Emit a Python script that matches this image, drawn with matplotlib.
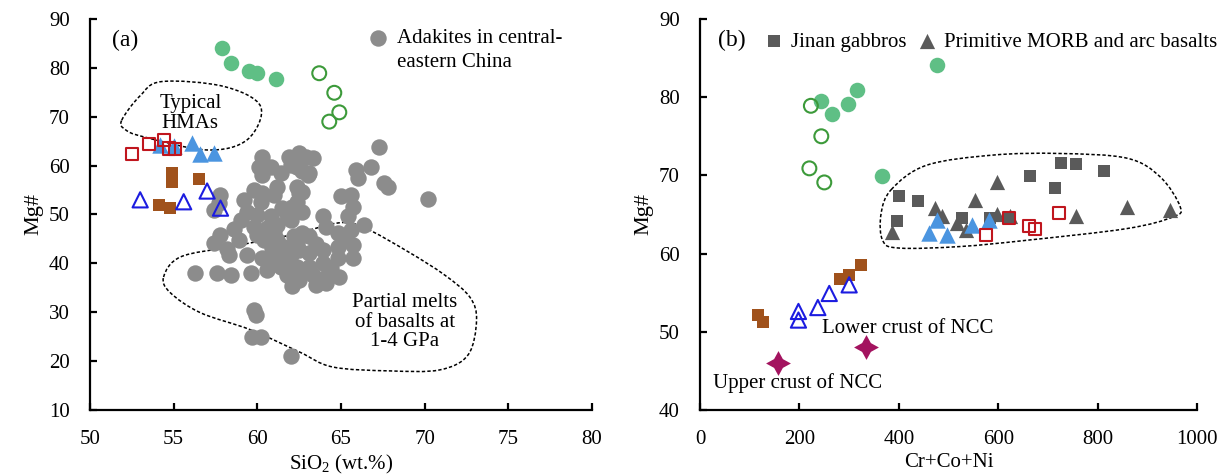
import numpy as np
import matplotlib.pyplot as plt
from matplotlib.path import Path
from matplotlib.patches import PathPatch

plt.rcParams['font.family'] = ['Liberation Serif', 'DejaVu Serif']
plt.rcParams['mathtext.fontset'] = 'custom'
plt.rcParams['mathtext.rm'] = 'Liberation Serif'

# ---- panel (a): SiO2 vs Mg# ----
adakite_sio2 = [60.3, 60.1, 60.3, 61.9, 62.0, 61.4, 62.5, 62.7, 57.8, 57.4,
                59.2, 59.8, 60.3, 61.0, 59.4, 59.0, 60.0, 60.8, 61.5, 62.1,
                62.5, 62.7, 62.0, 61.2, 60.6, 60.0, 58.9, 57.8, 57.4, 60.4,
                61.2, 61.6, 62.2, 62.7, 58.3, 59.4, 60.3, 61.0, 62.0, 62.5,
                56.3, 57.6, 58.4, 59.6, 60.6, 61.4, 61.8, 62.5, 62.1, 67.3,
                66.8, 66.0, 67.6, 67.8, 63.3, 62.4, 63.0, 62.7, 62.4, 63.9,
                65.0, 65.7, 65.4, 66.4, 65.6, 64.8, 64.1, 63.1, 62.4, 65.7,
                64.8, 63.9, 63.1, 65.7, 64.8, 63.9, 63.1, 62.4, 64.9, 64.1,
                63.3, 62.5, 70.2, 65.6, 64.1, 63.5, 62.0, 59.8, 59.9, 59.7,
                60.2, 62.0, 60.8, 62.9, 65.9, 61.2, 62.4, 63.1, 57.7, 58.6,
                59.8, 61.0, 61.8, 60.2, 63.5, 64.4, 65.2, 58.2, 61.6, 60.9]
adakite_mg = [61.8, 59.8, 58.1, 61.8, 60.1, 58.4, 62.5, 58.8, 54.0, 50.9,
              53.0, 55.0, 54.4, 54.0, 50.6, 48.9, 49.9, 49.6, 51.3, 51.6,
              54.4, 50.6, 48.9, 47.9, 47.2, 45.8, 44.8, 45.8, 44.1, 44.8,
              44.8, 43.4, 45.5, 46.2, 41.7, 41.7, 41.1, 41.1, 41.7, 42.8,
              38.0, 38.0, 37.6, 38.0, 38.7, 39.3, 37.6, 38.3, 35.3, 63.9,
              59.8, 57.4, 56.4, 55.7, 61.5, 59.8, 58.1, 54.7, 52.6, 49.6,
              53.7, 51.6, 49.6, 47.9, 46.9, 46.2, 47.5, 45.5, 44.1, 43.8,
              43.4, 42.8, 42.1, 41.1, 41.1, 40.0, 39.3, 39.3, 37.3, 37.3,
              37.6, 36.6, 53.2, 54.0, 35.9, 35.6, 37.0, 30.5, 29.5, 24.9,
              24.9, 21.0, 59.8, 61.8, 59.1, 55.7, 55.7, 58.4, 52.3, 47.0,
              47.5, 46.2, 50.0, 52.5, 44.0, 39.0, 45.0, 43.0, 40.2, 43.2]

green_fill_sio2 = [57.9, 58.4, 59.5, 60.0, 61.1]
green_fill_mg = [84.0, 81.0, 79.4, 78.9, 77.8]
green_open_sio2 = [63.7, 64.6, 64.9, 64.3]
green_open_mg = [78.9, 74.9, 70.9, 69.0]
red_sq_sio2 = [52.5, 53.5, 54.4, 54.7, 55.1]
red_sq_mg = [62.3, 64.4, 65.3, 63.5, 63.4]
blue_fill_sio2 = [54.2, 55.0, 56.1, 56.6, 57.4]
blue_fill_mg = [64.2, 64.0, 64.6, 62.4, 62.6]
brown_sio2 = [54.9, 54.9, 56.5, 54.1, 54.8]
brown_mg = [58.4, 56.7, 57.3, 52.0, 51.3]
blue_open_sio2 = [53.0, 55.6, 57.0, 57.8]
blue_open_mg = [53.0, 52.6, 54.8, 51.3]

# outlines (SiO2, Mg#)
hma_field = [(51.9, 69.3), (53.0, 74.3), (54.3, 77.2), (58.0, 76.2),
             (60.2, 72.1), (59.4, 65.3), (57.0, 63.2), (53.2, 65.9),
             (52.1, 67.4)]
melt_field = [(54.4, 37.2), (55.4, 41.3), (58.4, 43.4), (62.0, 45.8),
              (64.9, 48.3), (66.4, 47.3), (69.0, 42.4), (71.2, 37.6),
              (72.7, 33.1), (73.1, 28.4), (72.6, 21.3), (70.9, 18.2),
              (67.9, 18.0), (64.5, 18.8), (62.5, 21.9), (59.6, 26.4),
              (56.6, 29.9), (54.8, 34.0)]

# ---- panel (b): Cr+Co+Ni vs Mg# ----
gabbro_cr = [400, 439, 397, 664, 726, 756, 813, 714, 527, 584, 622]
gabbro_mg = [67.4, 66.7, 64.2, 69.9, 71.6, 71.5, 70.5, 68.4, 64.5, 64.5, 64.6]
morb_cr = [386, 473, 486, 553, 597, 517, 535, 597, 757, 860, 946, 624]
morb_mg = [62.7, 65.8, 64.8, 66.9, 69.2, 63.9, 63.0, 65.1, 64.8, 66.0, 65.6, 64.8]
b_green_fill_cr = [476, 315, 298, 265, 243, 366]
b_green_fill_mg = [84.1, 80.9, 79.1, 77.9, 79.5, 69.9]
b_green_open_cr = [223, 244, 220, 250]
b_green_open_mg = [78.9, 75.0, 70.9, 69.1]
b_blue_fill_cr = [476, 460, 496, 547, 582]
b_blue_fill_mg = [64.3, 62.6, 62.4, 63.7, 64.3]
b_red_sq_cr = [622, 661, 673, 723, 575]
b_red_sq_mg = [64.5, 63.5, 63.2, 65.2, 62.4]
b_brown_cr = [117, 127, 282, 300, 323]
b_brown_mg = [52.1, 51.3, 56.8, 57.3, 58.5]
b_blue_open_cr = [198, 198, 237, 260, 300]
b_blue_open_mg = [52.6, 51.5, 53.1, 54.9, 56.0]
crust_cr = [156, 333]
crust_mg = [46.0, 48.1]

basalt_field = [(385, 68.2), (456, 71.3), (590, 72.6), (724, 72.8),
                (859, 72.2), (926, 69.8), (966, 66.0), (952, 64.7),
                (859, 63.2), (657, 61.7), (523, 60.9), (402, 60.7),
                (368, 61.6), (364, 65.0)]

GREY = '#8c8c8c'
DARK = '#5a5a5a'
GREEN = '#5fbf85'
GREEN_EDGE = '#3c9a3a'
RED = '#c0161e'
LBLUE = '#4b95e0'
BROWN = '#a0521c'
BLUE = '#1c1ce0'
STAR = '#a3135f'

FS = 15


def closed_curve(points):
    ''' Smooth closed outline through the points (Catmull-Rom as cubic Beziers) '''
    p = np.array(points, dtype=float)
    n = len(p)
    verts = [p[0]]
    codes = [Path.MOVETO]
    for i in range(n):
        p0, p1, p2, p3 = p[i - 1], p[i], p[(i + 1) % n], p[(i + 2) % n]
        verts += [p1 + (p2 - p0) / 6, p2 - (p3 - p1) / 6, p2]
        codes += [Path.CURVE4] * 3
    return Path(verts, codes)


def add_field(ax, points):
    patch = PathPatch(closed_curve(points), facecolor='none', edgecolor='black',
                      lw=1.1, linestyle=(0, (2.2, 1.4)), zorder=1)
    ax.add_patch(patch)


def style_axes(ax):
    for side in ['top', 'right']:
        ax.spines[side].set_visible(False)
    for side in ['left', 'bottom']:
        ax.spines[side].set_linewidth(1.6)
    ax.tick_params(direction='in', length=5, width=1.6, labelsize=FS, pad=14.5)


fig = plt.figure(figsize=(12.29, 4.76), dpi=100)
ax1 = fig.add_axes([0.0732, 0.1387, 0.4085, 0.8214])
ax2 = fig.add_axes([0.5696, 0.1387, 0.4044, 0.8214])

# panel (a)
add_field(ax1, hma_field)
add_field(ax1, melt_field)
ax1.scatter(adakite_sio2, adakite_mg, s=140, color=GREY, lw=0, zorder=2)
ax1.scatter(green_fill_sio2, green_fill_mg, s=125, color=GREEN, lw=0, zorder=3)
ax1.scatter(green_open_sio2, green_open_mg, s=100, facecolor='none',
            edgecolor=GREEN_EDGE, lw=1.5, zorder=3)
ax1.scatter(brown_sio2, brown_mg, s=85, marker='s', color=BROWN, lw=0, zorder=3)
ax1.scatter(blue_fill_sio2, blue_fill_mg, s=140, marker='^', color=LBLUE, lw=0, zorder=3)
ax1.scatter(red_sq_sio2, red_sq_mg, s=75, marker='s', facecolor='none',
            edgecolor=RED, lw=1.5, zorder=4)
ax1.scatter(blue_open_sio2, blue_open_mg, s=120, marker='^', facecolor='none',
            edgecolor=BLUE, lw=1.5, zorder=4)

# key for the adakite symbol, first line level with the marker
ax1.scatter([0.574], [0.951], s=140, color=GREY, lw=0, transform=ax1.transAxes,
            clip_on=False)
ax1.text(0.612, 0.951, 'Adakites in central-', transform=ax1.transAxes,
         fontsize=FS, ha='left', va='center')
ax1.text(0.612, 0.890, 'eastern China', transform=ax1.transAxes,
         fontsize=FS, ha='left', va='center')

ax1.text(56.0, 70.7, 'Typical\nHMAs', fontsize=FS, ha='center', va='center',
         linespacing=1.1)
ax1.text(68.8, 28.0, 'Partial melts\nof basalts at\n1-4 GPa', fontsize=FS,
         ha='center', va='center', linespacing=1.05)
ax1.text(0.07, 0.946, '(a)', transform=ax1.transAxes, fontsize=17,
         ha='center', va='center')

ax1.set_xlim(50, 80)
ax1.set_ylim(10, 90)
ax1.set_xticks(np.arange(50, 81, 5))
ax1.set_yticks(np.arange(10, 91, 10))
ax1.set_xlabel(r'SiO$_\mathregular{2}$ (wt.%)', fontsize=FS, labelpad=3)
ax1.set_ylabel('Mg#', fontsize=16, labelpad=4)
style_axes(ax1)

# panel (b)
add_field(ax2, basalt_field)
ax2.scatter(gabbro_cr, gabbro_mg, s=85, marker='s', color=DARK, lw=0, zorder=2,
            label='Jinan gabbros')
ax2.scatter(morb_cr, morb_mg, s=120, marker='^', color=DARK, lw=0, zorder=2,
            label='Primitive MORB and arc basalts')
ax2.scatter(b_green_fill_cr, b_green_fill_mg, s=125, color=GREEN, lw=0, zorder=3)
ax2.scatter(b_green_open_cr, b_green_open_mg, s=100, facecolor='none',
            edgecolor=GREEN_EDGE, lw=1.5, zorder=3)
ax2.scatter(b_blue_fill_cr, b_blue_fill_mg, s=140, marker='^', color=LBLUE, lw=0, zorder=3)
ax2.scatter(b_red_sq_cr, b_red_sq_mg, s=75, marker='s', facecolor='none',
            edgecolor=RED, lw=1.5, zorder=4)
ax2.scatter(b_brown_cr, b_brown_mg, s=85, marker='s', color=BROWN, lw=0, zorder=3)
ax2.scatter(b_blue_open_cr, b_blue_open_mg, s=120, marker='^', facecolor='none',
            edgecolor=BLUE, lw=1.5, zorder=4)
ax2.scatter(crust_cr, crust_mg, s=320, marker=(4, 1, 0), color=STAR, lw=0, zorder=3)

ax2.text(245, 50.4, 'Lower crust of NCC', fontsize=FS, ha='left', va='center')
ax2.text(27, 43.4, 'Upper crust of NCC', fontsize=FS, ha='left', va='center')
ax2.text(0.064, 0.946, '(b)', transform=ax2.transAxes, fontsize=17,
         ha='center', va='center')
ax2.legend(loc='upper left', bbox_to_anchor=(0.12, 0.977), ncol=2, frameon=False,
           fontsize=FS, handletextpad=0.3, handlelength=1.0, borderaxespad=0.0,
           borderpad=0.2, columnspacing=0.5)

ax2.set_xlim(0, 1000)
ax2.set_ylim(40, 90)
ax2.set_xticks(np.arange(0, 1001, 200))
ax2.set_yticks(np.arange(40, 91, 10))
ax2.set_xlabel('Cr+Co+Ni', fontsize=FS, labelpad=3)
ax2.set_ylabel('Mg#', fontsize=16, labelpad=4)
style_axes(ax2)

fig.savefig('out.png', dpi=100)
